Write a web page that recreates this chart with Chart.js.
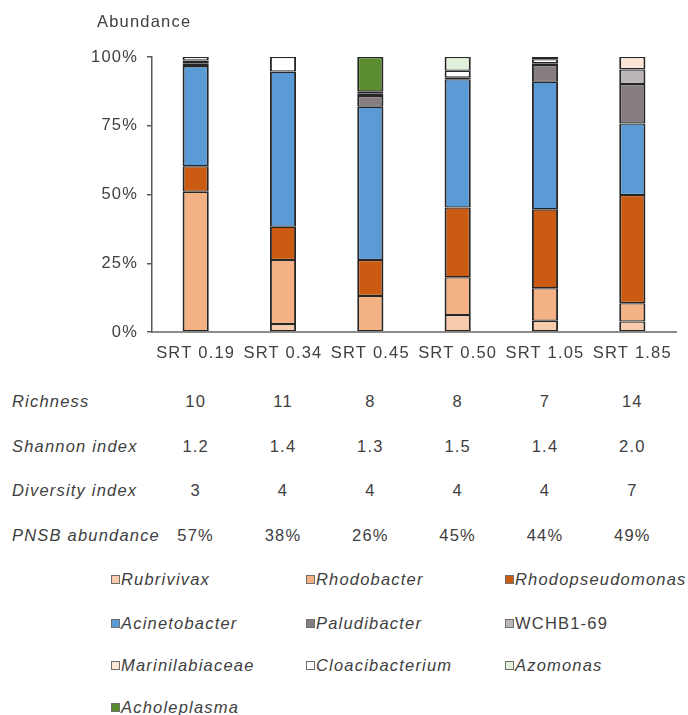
<!DOCTYPE html>
<html>
<head>
<meta charset="utf-8">
<script src="https://cdn.jsdelivr.net/npm/chart.js@4.4.1/dist/chart.umd.min.js"></script>
<style>
  html, body { margin: 0; padding: 0; background: #fff; }
  body {
    width: 688px; height: 715px; position: relative; overflow: hidden;
    font-family: 'Liberation Sans', Arial, sans-serif; color: #404040;
    font-size: 16.5px; letter-spacing: 1.2px;
  }
  #wrap { position: absolute; left: 0; top: 0; width: 688px; height: 370px; }
  .cell { position: absolute; white-space: nowrap; line-height: 20px; height: 20px; }
  .lbl { font-style: italic; left: 12px; }
  .val { transform: translateX(-50%); }
  .leg { position: absolute; white-space: nowrap; line-height: 20px; height: 20px; }
  .leg.it { font-style: italic; }
  .box { display: inline-block; width: 7px; height: 7px; border: 1px solid #6f6f6f; margin-right: 1px; vertical-align: 1px; }
</style>
</head>
<body>
<div id="wrap"><canvas id="c" width="688" height="370"></canvas></div>
<div id="table"></div>
<div id="legend"></div>
<script>
// Sludge retention times (days)
const categories = ['SRT 0.19', 'SRT 0.34', 'SRT 0.45', 'SRT 0.50', 'SRT 1.05', 'SRT 1.85'];
const yTicks = [0, 25, 50, 75, 100];

// Relative abundance of each genus (%), bottom to top of the stack
const rubrivivax       = [null, 2.9, null, 6.2, 4.1, 3.8];
const rhodobacter      = [51.0, 23.3, 13.1, 13.7, 11.8, 6.7];
const rhodopseudomonas = [9.3, 12.1, 13.1, 25.4, 28.7, 39.3];
const acinetobacter    = [36.4, 56.4, 55.7, 46.6, 46.4, 26.0];
const paludibacter     = [1.0, null, 3.9, 0.6, 6.1, 14.4];
const wchb169          = [1.0, null, 0.8, null, 0.6, 5.3];
const marinilabiaceae  = [null, null, null, null, null, 4.5];
const cloacibacterium  = [1.3, 5.3, null, 2.5, 1.5, null];
const azomonas         = [null, null, 0.8, 5.0, 0.8, null];
const acholeplasma     = [null, null, 12.6, null, null, null];

// Community indices per reactor
const richness  = ['10', '11', '8', '8', '7', '14'];
const shannon   = ['1.2', '1.4', '1.3', '1.5', '1.4', '2.0'];
const diversity = ['3', '4', '4', '4', '4', '7'];
const pnsb      = ['57%', '38%', '26%', '45%', '44%', '49%'];

const series = [
  { name: 'Rubrivivax',       data: rubrivivax,       color: '#F8CBAD', italic: true },
  { name: 'Rhodobacter',      data: rhodobacter,      color: '#F4B183', italic: true },
  { name: 'Rhodopseudomonas', data: rhodopseudomonas, color: '#CB5B12', italic: true },
  { name: 'Acinetobacter',    data: acinetobacter,    color: '#5B9BD5', italic: true },
  { name: 'Paludibacter',     data: paludibacter,     color: '#857D80', italic: true },
  { name: 'WCHB1-69',         data: wchb169,          color: '#BDB6B8', italic: false },
  { name: 'Marinilabiaceae',  data: marinilabiaceae,  color: '#FCE6D8', italic: true },
  { name: 'Cloacibacterium',  data: cloacibacterium,  color: '#FFFFFF', italic: true },
  { name: 'Azomonas',         data: azomonas,         color: '#E2EFDA', italic: true },
  { name: 'Acholeplasma',     data: acholeplasma,     color: '#5B8C30', italic: true }
];

const FONT = "'Liberation Sans', Arial, sans-serif";
const TEXT = '#404040';

const spacingPlugin = {
  id: 'spacing',
  beforeDraw(chart) { chart.ctx.letterSpacing = '1.2px'; }
};

const axisTitlePlugin = {
  id: 'axisTitle',
  afterDraw(chart) {
    const ctx = chart.ctx;
    ctx.save();
    ctx.font = '16.5px ' + FONT;
    ctx.fillStyle = TEXT;
    ctx.textAlign = 'left';
    ctx.textBaseline = 'middle';
    ctx.fillText('Abundance', 97, 22);
    ctx.restore();
  }
};

const chart = new Chart(document.getElementById('c'), {
  type: 'bar',
  data: {
    labels: categories,
    datasets: series.map(s => ({
      label: s.name,
      data: s.data,
      backgroundColor: s.color,
      borderColor: '#262626',
      borderWidth: { top: 1.3, bottom: 1.3, left: 2, right: 2 },
      borderSkipped: false,
      barPercentage: 0.3,
      categoryPercentage: 1.0
    }))
  },
  options: {
    responsive: false,
    animation: false,
    layout: { padding: { top: 57, right: 12, left: 0, bottom: 0 } },
    plugins: { legend: { display: false }, tooltip: { enabled: false }, title: { display: false } },
    scales: {
      x: {
        stacked: true,
        afterFit: s => { s.height = 38; },
        grid: { display: true, drawOnChartArea: false, drawTicks: false },
        border: { display: true, color: '#8c8c8c', width: 2 },
        ticks: { color: TEXT, font: { family: FONT, size: 16.5 }, padding: 12, maxRotation: 0, autoSkip: false }
      },
      y: {
        stacked: true,
        min: 0, max: 100,
        afterFit: s => { s.width = 152; },
        afterBuildTicks: s => { s.ticks = yTicks.map(v => ({ value: v })); },
        grid: { display: true, drawOnChartArea: false, drawTicks: true, tickLength: 5, color: '#595959', lineWidth: 1.5 },
        border: { display: true, color: '#595959', width: 1.5 },
        ticks: { color: TEXT, font: { family: FONT, size: 16.5 }, padding: 9, callback: v => v + '%' }
      }
    }
  },
  plugins: [spacingPlugin, axisTitlePlugin]
});

// Index table under the axis, each value centred on its bar
const table = document.getElementById('table');
const rows = [
  { label: 'Richness', values: richness, y: 401 },
  { label: 'Shannon index', values: shannon, y: 446 },
  { label: 'Diversity index', values: diversity, y: 490 },
  { label: 'PNSB abundance', values: pnsb, y: 535 }
];
rows.forEach(r => {
  const l = document.createElement('div');
  l.className = 'cell lbl';
  l.style.top = (r.y - 10) + 'px';
  l.textContent = r.label;
  table.appendChild(l);
  r.values.forEach((v, i) => {
    const d = document.createElement('div');
    d.className = 'cell val';
    d.style.top = (r.y - 10) + 'px';
    d.style.left = chart.scales.x.getPixelForValue(i) + 'px';
    d.textContent = v;
    table.appendChild(d);
  });
});

// Legend: three columns, row-major
const legend = document.getElementById('legend');
const legCols = [111, 306, 505];
const legRows = [579, 623, 665, 707];
series.forEach((s, i) => {
  const d = document.createElement('div');
  d.className = 'leg' + (s.italic ? ' it' : '');
  d.style.left = legCols[i % 3] + 'px';
  d.style.top = (legRows[Math.floor(i / 3)] - 10) + 'px';
  const b = document.createElement('span');
  b.className = 'box';
  b.style.background = s.color;
  d.appendChild(b);
  d.appendChild(document.createTextNode(s.name));
  legend.appendChild(d);
});
</script>
</body>
</html>
